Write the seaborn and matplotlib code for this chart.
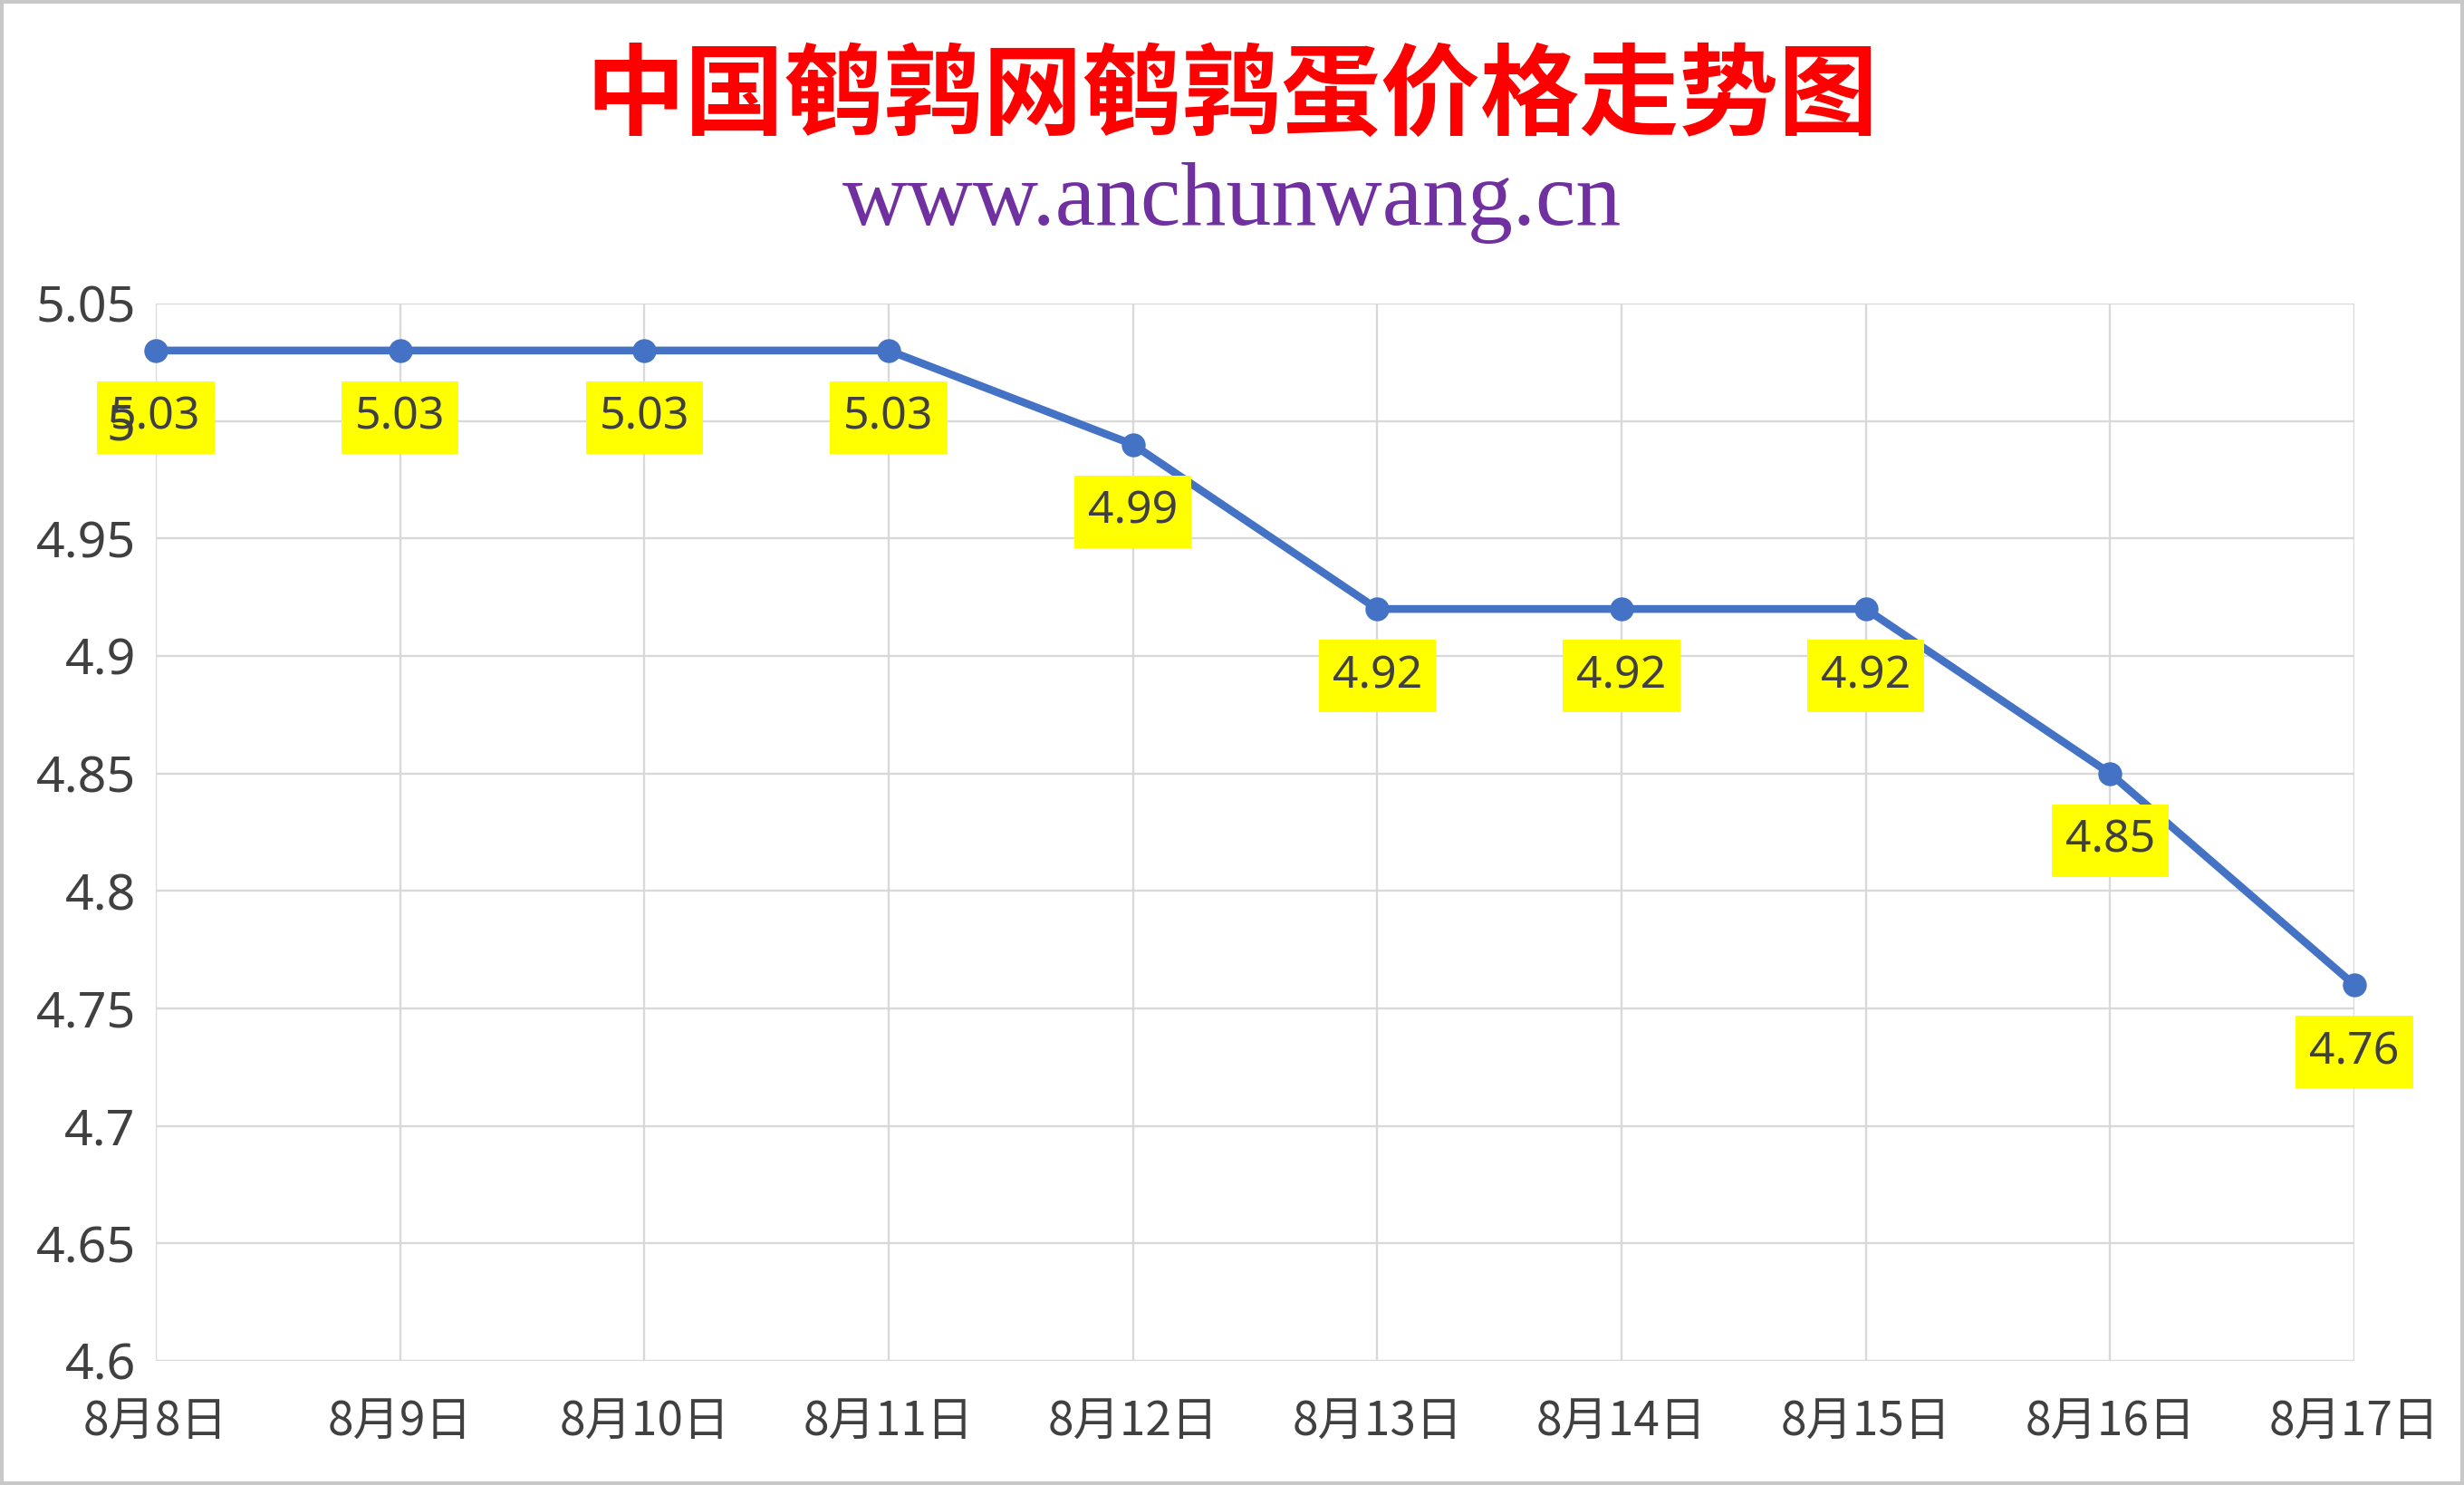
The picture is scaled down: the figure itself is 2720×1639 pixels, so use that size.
import numpy as np
import pandas as pd
import matplotlib
matplotlib.use("Agg")
import matplotlib.pyplot as plt
from matplotlib.ticker import FuncFormatter, MultipleLocator
from matplotlib.patches import Rectangle
import seaborn as sns

# ---- data ----
dates = ["8月8日", "8月9日", "8月10日", "8月11日", "8月12日",
         "8月13日", "8月14日", "8月15日", "8月16日", "8月17日"]
prices = [5.03, 5.03, 5.03, 5.03, 4.99, 4.92, 4.92, 4.92, 4.85, 4.76]
title_text = "中国鹌鹑网鹌鹑蛋价格走势图"
subtitle_text = "www.anchunwang.cn"
y_min, y_max, y_step = 4.6, 5.05, 0.05

df = pd.DataFrame({"date": dates, "price": prices})

sns.set_theme(style="white")
plt.rcParams["font.family"] = ["Noto Sans CJK SC", "DejaVu Sans"]

W, H = 2720, 1639
fig = plt.figure(figsize=(W / 100, H / 100), dpi=100)
ax = fig.add_axes([172 / W, 1 - 1502 / H, (2599 - 172) / W, (1502 - 335) / H])

line_color = "#4472C4"
grid_color = "#D9D9D9"
text_color = "#404040"

sns.lineplot(data=df, x="date", y="price", ax=ax, sort=False,
             color=line_color, linewidth=6.2, marker="o", markersize=19,
             markeredgewidth=0, zorder=3, clip_on=False)

ax.set_xlim(0, len(dates) - 1)
ax.set_ylim(y_min, y_max)
ax.yaxis.set_major_locator(MultipleLocator(y_step))
ax.yaxis.set_major_formatter(FuncFormatter(lambda v, p: f"{round(v, 2):g}"))

# grid: vertical via axis grid, horizontal via hlines (so y tick labels can sit on top)
ax.set_axisbelow(True)
ax.xaxis.grid(True, color=grid_color, linewidth=1.7)
ax.yaxis.grid(False)
yt = np.round(np.arange(y_min, y_max + 1e-9, y_step), 2)
ax.hlines(yt, 0, len(dates) - 1, colors=grid_color, linewidth=1.7, zorder=0.6)
ax.yaxis.set_zorder(5)

for s in ax.spines.values():
    s.set_visible(False)

ax.tick_params(axis="both", length=0)
ax.tick_params(axis="y", pad=16, labelsize=40, labelcolor=text_color)
ax.tick_params(axis="x", pad=30, labelsize=37, labelcolor=text_color)
for lbl in ax.get_yticklabels():
    lbl.set_family(["Noto Sans", "DejaVu Sans"])
ax.set_xlabel("")
ax.set_ylabel("")

# data labels
for i, v in enumerate(prices):
    ax.annotate(f"{v:.2f}", xy=(i, v), xytext=(0, -74), textcoords="offset pixels",
                ha="center", va="center", fontsize=36, color=text_color,
                family=["Noto Sans", "DejaVu Sans"], zorder=4, annotation_clip=False,
                bbox=dict(boxstyle="square,pad=0.3", facecolor="#FFFF00", edgecolor="none"))

# titles
fig.text(0.5, 1 - 108 / H, title_text, ha="center", va="center", fontsize=79,
         color="#FF0000", fontweight="bold", family=["Noto Sans CJK SC", "DejaVu Sans"])
fig.text(0.5, 1 - 224 / H, subtitle_text, ha="center", va="center", fontsize=72,
         color="#7030A0", family=["Liberation Serif", "DejaVu Serif"])

# outer border
fig.patches.append(Rectangle((0.0008, 0.0012), 0.9984, 0.9976, transform=fig.transFigure,
                             fill=False, edgecolor="#C8C8C8", linewidth=3))

fig.savefig("out.png", dpi=100)
